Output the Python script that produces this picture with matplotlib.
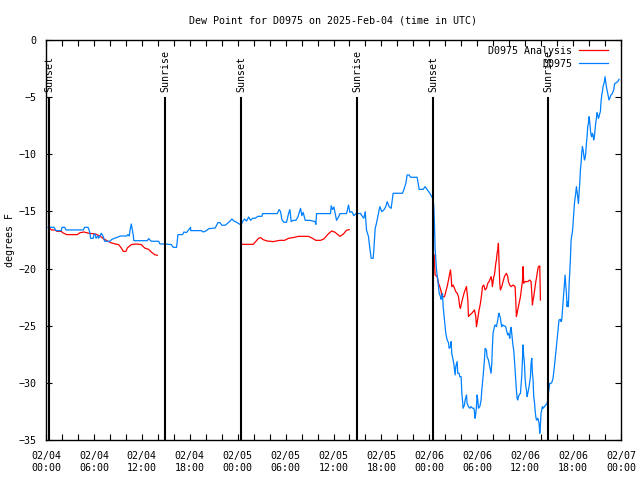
import numpy as np
import matplotlib
matplotlib.use("Agg")
import matplotlib.pyplot as plt
from matplotlib.ticker import MultipleLocator

# hours since 2025-02-04 00:00 UTC, dew point in degrees F
obs_hours = [
    0.25, 1.0, 1.25, 1.92, 2.0, 2.34, 2.5, 4.67, 4.84, 5.26, 5.42, 5.5, 5.59, 5.92, 6.0, 6.17,
    6.26, 6.5, 6.59, 6.93, 7.17, 7.34, 8.0, 8.26, 9.34, 10.1, 10.26, 10.43, 10.5, 10.68, 10.93,
    11.0, 12.68, 12.85, 13.18, 14.1, 14.27, 14.93, 15.68, 15.93, 16.35, 16.52, 17.1, 17.27,
    17.6, 17.85, 18.1, 18.12, 19.44, 19.69, 20.1, 20.36, 21.19, 21.53, 21.78, 22.03, 22.44,
    22.94, 23.28, 23.53, 23.87, 24.28, 24.45,
    24.61, 24.87, 25.12, 25.37, 25.62, 25.87, 26.2, 26.53, 27.03, 27.12, 28.95, 29.2, 29.37,
    29.54, 29.79, 30.12, 30.37, 30.54, 30.7, 30.95, 31.29, 31.54, 31.87, 32.04, 32.2, 32.46,
    33.04, 33.7, 33.79, 33.88, 35.63, 35.71, 35.88, 36.05, 36.21, 36.38, 36.63, 36.8, 37.63,
    37.88, 38.05, 38.3, 38.55, 38.8, 39.08,
    39.38, 39.63, 39.8, 39.97, 40.13, 40.38, 40.55, 40.72, 40.97, 41.05, 41.22, 41.38, 41.63,
    41.8, 42.05, 42.3, 42.55, 42.72, 42.97, 43.22, 43.3, 43.47, 44.64, 44.8, 45.06, 45.22,
    45.47, 45.64, 46.47, 46.64, 46.72, 47.22, 47.47, 47.72, 48.06, 48.31, 48.47,
    48.56, 48.65, 48.72, 48.9, 49.06, 49.15, 49.23, 49.4, 49.48, 49.56, 49.65, 49.73, 49.9,
    50.06, 50.23, 50.4, 50.48, 50.65, 50.73, 50.81, 50.98, 51.06, 51.15, 51.23, 51.31, 51.48,
    51.56, 51.73, 51.81, 51.98, 52.07, 52.15, 52.23, 52.4, 52.48, 52.65, 52.73, 52.9, 53.07,
    53.23, 53.4, 53.57, 53.65, 53.73, 53.82, 53.9, 53.98, 54.07, 54.15, 54.32, 54.48, 54.57,
    54.73, 54.9, 54.98, 55.15, 55.23, 55.4, 55.57, 55.73, 55.82, 55.9, 55.98, 56.15, 56.23,
    56.4, 56.57, 56.65, 56.73, 56.9, 56.99, 57.07, 57.15, 57.4, 57.57, 57.65, 57.82, 57.9,
    57.99, 58.07, 58.15, 58.24, 58.32, 58.41, 58.49, 58.57, 58.66, 58.74, 58.82, 58.9, 58.99,
    59.07, 59.16, 59.24, 59.41, 59.57, 59.66, 59.74, 59.82, 59.91, 59.99, 60.08, 60.16, 60.24,
    60.33, 60.49, 60.66, 60.74, 60.83, 60.91, 60.99, 61.07, 61.16, 61.24, 61.33, 61.41, 61.49,
    61.57, 61.66, 61.74, 61.83, 61.91, 61.99, 62.08, 62.16, 62.24, 62.41, 62.58, 62.74, 62.83,
    62.91, 62.99, 63.08, 63.24, 63.33, 63.49, 63.66, 63.83, 63.99, 64.16,
    64.24, 64.41, 64.5, 64.58, 64.75, 64.91, 65.0, 65.08, 65.17, 65.25, 65.33, 65.41, 65.5,
    65.58, 65.67, 65.75, 65.92, 66.0, 66.08, 66.17, 66.33, 66.42, 66.5, 66.58, 66.67, 66.75,
    66.83, 66.92, 67.0, 67.08, 67.17, 67.25, 67.33, 67.42, 67.5, 67.58, 67.67, 67.75, 67.83,
    67.92, 68.0, 68.08, 68.17, 68.25, 68.33, 68.42, 68.5, 68.58, 68.67, 68.75, 68.83, 68.92,
    69.0, 69.08, 69.17, 69.25, 69.34, 69.42, 69.5, 69.59, 69.67, 69.75, 69.92, 70.0, 70.09,
    70.17, 70.34, 70.5, 70.59, 70.75, 70.92, 71.09, 71.17, 71.25, 71.42, 71.59, 71.75,
]
obs_dewpt = [
    -16.39, -16.39, -16.68, -16.68, -16.39, -16.39, -16.62, -16.62, -16.39, -16.39, -16.68,
    -16.91, -17.35, -17.35, -17.0, -17.0, -17.35, -17.15, -17.35, -16.91, -17.2, -17.61, -17.61,
    -17.44, -17.15, -17.15, -17.03, -17.15, -16.74, -16.1, -17.09, -17.56, -17.56, -17.38,
    -17.61, -17.61, -17.85, -17.85, -17.9, -18.14, -18.14, -17.03, -17.03, -16.8, -16.85,
    -16.62, -16.39, -16.68, -16.68, -16.8, -16.68, -16.51, -16.45, -15.98, -15.98, -16.21,
    -16.21, -15.92, -15.66, -15.84, -15.95, -16.13, -16.19,
    -15.89, -15.66, -15.84, -15.49, -15.78, -15.6, -15.6, -15.43, -15.43, -15.19, -15.19,
    -14.84, -15.02, -15.72, -15.95, -15.95, -15.19, -14.84, -15.89, -15.78, -15.78, -15.49,
    -14.73, -15.37, -15.08, -15.78, -15.78, -15.89, -16.13, -15.19, -15.19, -14.5, -14.84,
    -14.61, -15.19, -15.78, -15.49, -15.19, -15.19, -14.44, -15.08, -15.02, -15.37, -15.19,
    -15.19,
    -15.17, -15.46, -15.6, -15.02, -16.62, -17.2, -18.23, -19.1, -19.1, -18.37, -16.48, -16.04,
    -15.17, -14.58, -15.02, -14.87, -14.58, -14.15, -14.58, -14.73, -14.29, -13.41, -13.41,
    -13.12, -12.54, -11.81, -11.81, -12.01, -12.01, -12.69, -13.07, -13.07, -12.83, -13.07,
    -13.41, -13.71, -13.94,
    -14.58, -16.33, -18.23, -20.12, -21.0, -21.58, -22.17, -22.46, -22.69, -22.4, -22.17,
    -23.33, -24.5, -25.66, -26.25, -26.48, -26.98, -26.83, -26.39, -27.41, -28.0, -28.29,
    -28.87, -29.31, -28.58, -28.14, -29.16, -29.16, -29.46, -29.46, -30.91, -31.5, -32.22,
    -31.93, -31.5, -31.06, -31.79, -32.08, -32.22, -32.08, -32.22, -32.22, -32.52, -33.1,
    -32.66, -32.08, -31.06, -31.5, -32.22, -32.08, -31.5, -30.62, -29.46, -28.0, -26.98,
    -27.12, -27.71, -28.0, -28.58, -29.16, -28.29, -26.83, -25.66, -25.08, -24.93, -25.08,
    -24.5, -24.06, -23.91, -24.35, -24.79, -25.08, -24.93, -25.02, -25.08, -25.37, -25.81,
    -25.66, -25.81, -26.1, -25.37, -25.14, -25.66, -26.25, -26.83, -27.12, -28.0, -28.87,
    -29.75, -30.62, -31.35, -31.5, -31.2, -31.06, -30.91, -29.46, -28.0, -26.68, -27.7,
    -28.29, -29.6, -30.33, -30.62, -31.2, -30.91, -30.33, -29.46, -28.29, -27.85, -29.16,
    -29.75, -31.2, -31.64, -32.37, -32.95, -33.25, -33.25, -33.1, -33.25, -33.54, -34.41,
    -33.68, -32.66, -32.37, -32.08, -32.23, -32.08, -31.93, -31.79, -31.5, -30.91, -30.48,
    -30.04, -30.04, -29.99, -29.6, -28.58, -27.41, -26.25, -25.08,
    -24.5, -24.44, -24.64, -24.5, -22.89, -21.43, -20.56, -21.43, -22.16, -23.33, -22.89,
    -23.33, -21.43, -20.41, -19.1, -17.5, -16.77, -16.04, -15.16, -14.29, -13.41, -12.83,
    -13.27, -13.71, -14.29, -13.41, -12.54, -11.37, -10.79, -9.92, -9.33, -9.62, -10.06,
    -10.5, -10.35, -9.92, -9.04, -8.46, -7.58, -7.29, -6.71, -7.14, -7.87, -8.31, -8.46,
    -8.17, -8.31, -8.75, -8.46, -7.87, -7.29, -6.85, -6.36, -6.56, -6.85, -6.71, -6.42,
    -6.27, -5.4, -4.81, -4.52, -4.08, -3.65, -3.21, -3.65, -4.08, -4.67, -5.25, -5.1, -4.81,
    -4.67, -4.37, -3.94, -3.79, -3.73, -3.65, -3.44,
]

# analysis, three separate runs
ana1_hours = [0.5, 0.67, 1.17, 1.34, 1.92, 2.09, 2.59, 3.92, 4.26, 4.76, 5.34, 6.17, 6.76,
              7.17, 7.76, 8.09, 8.68, 9.09, 9.43, 9.68, 10.01, 10.18, 10.68, 11.26, 11.93,
              12.35, 12.85, 13.18, 13.6, 13.93]
ana1_dewpt = [-16.5, -16.62, -16.62, -16.74, -16.74, -16.86, -17.03, -17.03, -16.86, -16.8,
              -16.91, -16.97, -17.15, -17.38, -17.61, -17.73, -17.85, -17.9, -18.2, -18.5,
              -18.5, -18.2, -17.9, -17.85, -17.9, -18.2, -18.32, -18.55, -18.78, -18.84]

ana2_hours = [24.61, 25.95, 26.62, 26.87, 27.2, 27.7, 28.45, 29.29, 29.87, 30.37, 30.95,
              31.62, 32.87, 33.2, 33.79, 34.38, 34.79, 35.38, 35.79, 36.21, 36.8, 37.21,
              37.63, 37.96]
ana2_dewpt = [-17.88, -17.88, -17.35, -17.29, -17.47, -17.59, -17.64, -17.53, -17.53, -17.35,
              -17.29, -17.18, -17.18, -17.29, -17.53, -17.53, -17.41, -16.94, -16.71, -16.83,
              -17.18, -17.0, -16.65, -16.59]

ana3_hours = [48.6, 48.65, 48.72, 48.98, 49.15, 49.31, 49.48, 49.56, 49.73, 49.9, 50.06,
              50.23, 50.4, 50.56, 50.65, 50.73, 50.81, 50.98, 51.15, 51.31, 51.48, 51.65,
              51.81, 51.9, 52.07, 52.23, 52.4, 52.57, 52.65, 52.73, 52.82, 52.9, 53.07, 53.32,
              53.65, 53.82, 53.9, 53.98, 54.07, 54.23, 54.4, 54.57, 54.65, 54.82, 54.98, 55.15,
              55.32, 55.48, 55.65, 55.73, 55.82, 55.9, 55.98, 56.07, 56.15, 56.23, 56.32, 56.4,
              56.48, 56.57, 56.65, 56.73, 56.82, 56.9, 57.07, 57.23, 57.4, 57.65, 57.82, 57.9,
              58.07, 58.24, 58.49, 58.74, 58.82, 58.9, 58.99, 59.07, 59.24, 59.41, 59.57,
              59.66, 59.74, 59.82, 59.99, 60.33, 60.58, 60.74, 60.83, 60.91, 60.99, 61.07,
              61.16, 61.33, 61.41, 61.57, 61.66, 61.83, 61.91]
ana3_dewpt = [-18.8, -19.5, -20.56, -20.71, -21.29, -21.58, -22.02, -22.46, -22.46, -22.46,
              -22.02, -21.58, -21.0, -20.41, -20.12, -20.71, -21.58, -21.44, -21.73, -22.02,
              -22.16, -22.46, -23.33, -23.48, -22.9, -22.46, -22.02, -21.73, -21.58, -22.16,
              -22.75, -24.2, -24.06, -23.91, -23.62, -24.2, -25.08, -24.79, -24.35, -23.62,
              -23.04, -22.16, -21.58, -21.44, -21.87, -21.73, -21.29, -21.14, -20.85, -20.71,
              -21.0, -21.58, -21.14, -20.71, -20.56, -20.12, -19.54, -19.25, -18.67, -18.37,
              -17.79, -19.54, -21.29, -21.87, -21.58, -21.14, -20.71, -20.41, -20.71, -21.14,
              -21.44, -21.58, -21.44, -21.58, -22.75, -24.2, -23.91, -23.62, -23.04, -22.46,
              -21.58, -21.14, -19.83, -21.29, -21.14, -21.14, -21.0, -21.14, -22.16, -23.18,
              -22.75, -22.46, -22.02, -21.14, -20.85, -20.12, -19.83, -19.77, -22.75]

sun_hours = [0.41, 14.93, 24.45, 38.97, 48.48, 62.9]
sun_labels = ["Sunset", "Sunrise", "Sunset", "Sunrise", "Sunset", "Sunrise"]

tick_hours = [0, 6, 12, 18, 24, 30, 36, 42, 48, 54, 60, 66, 72]
tick_labels = ["02/04\n00:00", "02/04\n06:00", "02/04\n12:00", "02/04\n18:00",
               "02/05\n00:00", "02/05\n06:00", "02/05\n12:00", "02/05\n18:00",
               "02/06\n00:00", "02/06\n06:00", "02/06\n12:00", "02/06\n18:00",
               "02/07\n00:00"]

plt.rcParams['font.family'] = ['DejaVu Sans Mono']
plt.rcParams['font.size'] = 7.2

fig = plt.figure(figsize=(6.4, 4.8), dpi=100)
ax = fig.add_axes([46 / 640, 40 / 480, 575 / 640, 400 / 480])

red = '#ff0000'
blue = '#0080ff'

ax.plot(ana1_hours, ana1_dewpt, color=red, lw=0.9, label='D0975 Analysis')
ax.plot(ana2_hours, ana2_dewpt, color=red, lw=0.9)
ax.plot(ana3_hours, ana3_dewpt, color=red, lw=0.9)
ax.plot(obs_hours, obs_dewpt, color=blue, lw=0.9, label='D0975')

for h, lab in zip(sun_hours, sun_labels):
    ax.plot([h, h], [-35, -5.05], color='black', lw=1.5)
    ax.text(h, -4.55, lab, rotation=90, ha='center', va='bottom')

ax.set_xlim(0, 72)
ax.set_ylim(-35, 0)
ax.set_xticks(tick_hours)
ax.set_xticklabels(tick_labels)
ax.xaxis.set_minor_locator(MultipleLocator(2))
ax.yaxis.set_major_locator(MultipleLocator(5))
ax.tick_params(which='both', direction='in', top=True, right=True, length=4, width=0.8)
ax.tick_params(axis='x', pad=8)
ax.tick_params(axis='y', pad=7)
for s in ax.spines.values():
    s.set_linewidth(1)

ax.set_ylabel('degrees F', labelpad=2)
fig.text(0.52, 0.958, 'Dew Point for D0975 on 2025-Feb-04 (time in UTC)', ha='center', va='center')

ax.legend(loc='upper right', bbox_to_anchor=(1 - 7 / 575, 1.0), frameon=False,
          markerfirst=False, handlelength=2.9, handletextpad=0.7, labelspacing=0.3,
          borderaxespad=0.2)

fig.savefig('out.png', dpi=100)
